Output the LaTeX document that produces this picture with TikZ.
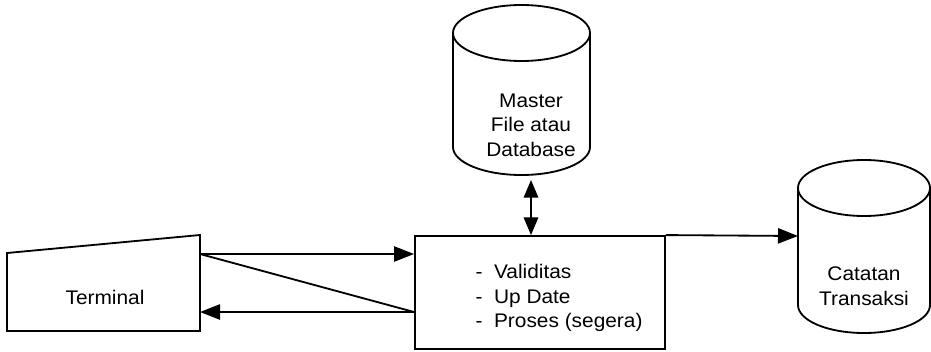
\documentclass[tikz,border=0pt]{standalone}
\usepackage{fontspec}
\setmainfont{Liberation Sans}[FakeStretch=1.06]
\usetikzlibrary{arrows.meta}

\begin{document}
\begin{tikzpicture}[x=0.025cm,y=0.025cm,line width=1.3pt,
	arr/.style={-{Triangle[length=5mm,width=3.8mm]}},
	darr/.style={{Triangle[length=4.4mm,width=3.6mm]}-{Triangle[length=4.4mm,width=3.6mm]}}]
		\tikzstyle{every node}=[font=\fontsize{14}{17.4}\selectfont]
		\useasboundingbox (0,0) rectangle (931,351);
		
		% terminal
		\draw (7,20) -- (7,98) -- (200,116) -- (200,20) -- cycle;
		\node (term) at (105,54) {Terminal};
		\coordinate (tA) at (200,97);
		\coordinate (tB) at (200,39);
		
		% proses
		\node [draw, minimum width=6.25cm, minimum height=2.825cm, inner sep=0pt] (proc) at (540,58.5) {};
		\node [align=left] (proclist) at (559,53) {-\ \ Validitas\\-\ \ Up Date\\-\ \ Proses (segera)};
		\coordinate (tD) at (proc.west |- tB);
		
		% master file
		\draw (453,318) -- (453,204) arc[x radius=68.5, y radius=28, start angle=180, end angle=360] -- (590,318);
		\draw (521.5,318) ellipse (68.5 and 28);
		\node [align=center] (master) at (531,226) {Master\\File atau\\Database};
		\coordinate (mb) at (531,171);
		
		% catatan transaksi
		\draw (798,163) -- (798,46) arc[x radius=66, y radius=28, start angle=180, end angle=360] -- (930,163);
		\draw (864,163) ellipse (66 and 28);
		\node [align=center] (cat) at (864,65) {Catatan\\Transaksi};
		\coordinate (catW) at (798,115);
		
		\draw [arr] (tA) -- (tA -| proc.west);
		\draw (tA) -- (tD);
		\draw [arr] (tD) -- (tB);
		\draw [darr] (mb) -- (mb |- proc.north);
		\draw [arr] (proc.north east) -- (catW);
		
\end{tikzpicture}
\end{document}
